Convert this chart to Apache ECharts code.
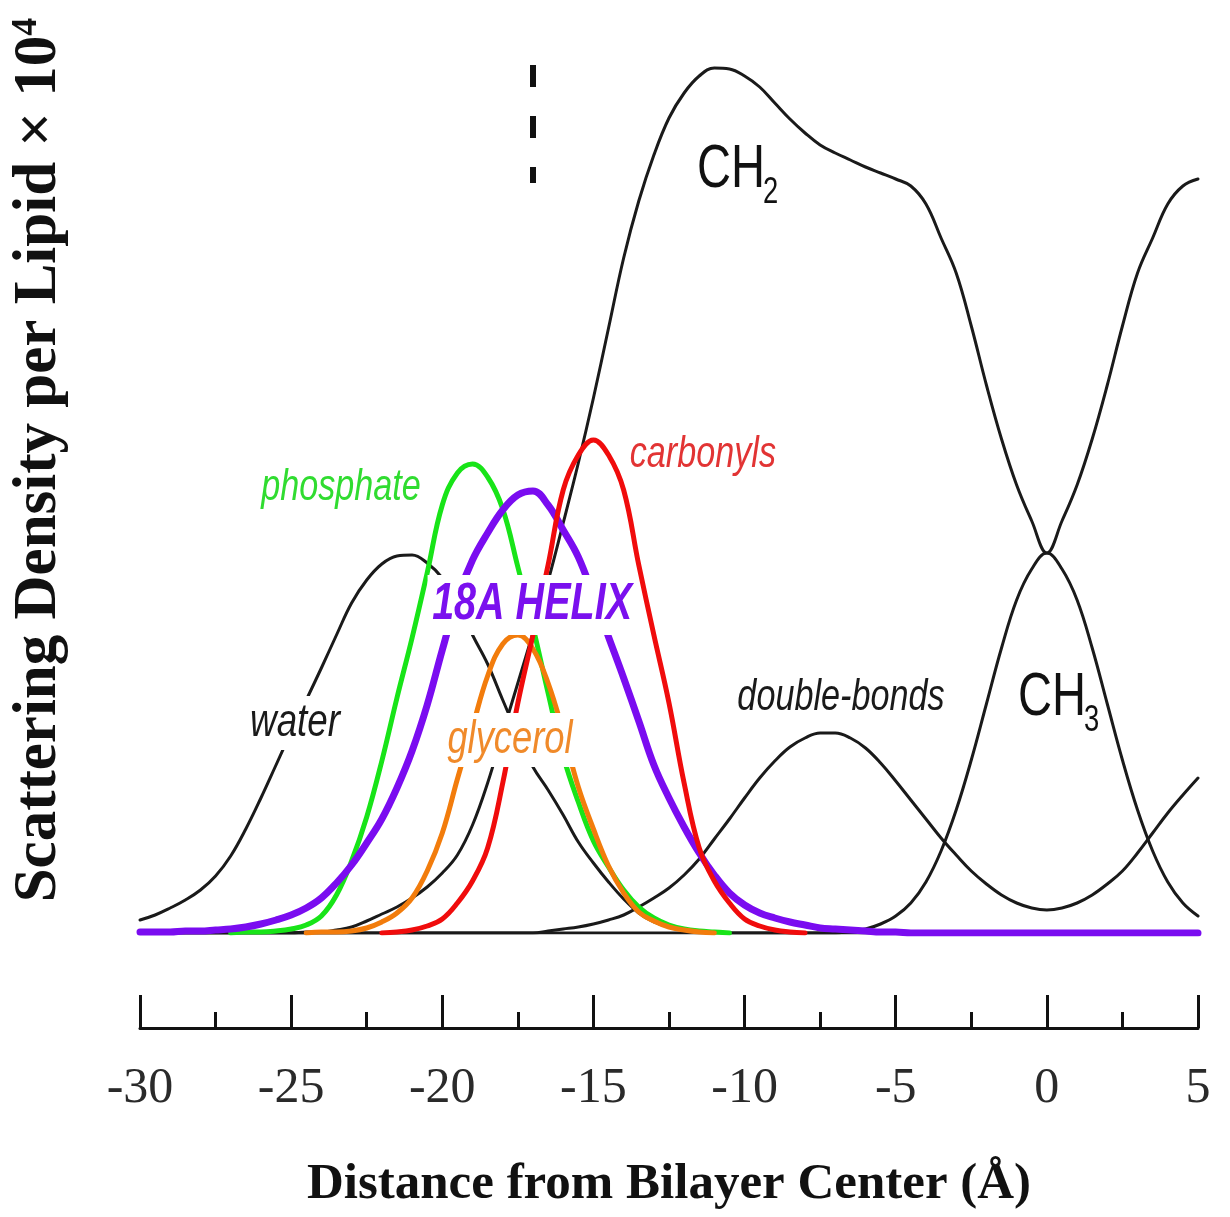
<!DOCTYPE html>
<html>
<head>
<meta charset="utf-8">
<script src="https://cdn.jsdelivr.net/npm/echarts@6/dist/echarts.min.js"></script>
<style>
html,body{margin:0;padding:0;background:#fff;}
#c{width:1230px;height:1217px;}
</style>
</head>
<body>
<div id="c"></div>
<script>
// Distance from bilayer centre (Å)
const xs = [-30,-29.5,-29,-28.5,-28,-27.5,-27,-26.5,-26,-25.5,
            -25,-24.5,-24,-23.5,-23,-22.5,-22,-21.5,-21,-20.5,
            -20,-19.5,-19,-18.5,-18,-17.5,-17,-16.5,-16,-15.5,
            -15,-14.5,-14,-13.5,-13,-12.5,-12,-11.5,-11,-10.5,
            -10,-9.5,-9,-8.5,-8,-7.5,-7,-6.5,-6,-5.5,
            -5,-4.5,-4,-3.5,-3,-2.5,-2,-1.5,-1,-0.5,
            0,0.5,1,1.5,2,2.5,3,3.5,4,4.5,5];

const water = [13,18,25,33,43,57,77,104,135,168,
               201,233,265,298,330,353,369,377,378,370,
               355,330,298,269,233,198,166,143,118,91,
               70,51,34,20,11,6,3,2,1,0,
               0,0,0,0,0,0,0,0,0,0,
               0,0,0,0,0,0,0,0,0,0,
               0,0,0,0,0,0,0,0,0,0,0];

const ch2 = [0,0,0,0,0,0,0,0,0,0,
             0,1,1,3,6,12,19,26,35,46,
             60,78,108,150,200,250,300,352,410,470,
             535,605,675,732,778,815,840,857,865,864,
             857,846,830,814,800,788,780,773,766,760,
             754,747,729,695,660,607,548,494,448,412,
             380,412,448,494,548,607,660,695,729,747,754];

const doubleBonds = [0,0,0,0,0,0,0,0,0,0,
                     0,0,0,0,0,0,0,0,0,0,
                     0,0,0,0,0,0,0,2,4,6,
                     9,13,18,26,35,45,58,74,94,114,
                     135,155,172,186,195,200,200,195,185,170,
                     152,133,114,95,78,62,49,38,30,25,
                     23,25,30,38,49,62,80,100,120,138,155];

const ch3 = [0,0,0,0,0,0,0,0,0,0,
             0,0,0,0,0,0,0,0,0,0,
             0,0,0,0,0,0,0,0,0,0,
             0,0,0,0,0,0,0,0,0,0,
             0,0,0,0,0,0,0,2,4,9,
             17,30,51,82,123,173,229,285,333,364,
             380,364,333,285,229,173,123,82,51,30,17];

const phosphate = [null,null,null,null,null,null,0,1,1,2,
                   4,8,17,38,72,116,172,235,295,360,
                   428,460,469,456,424,366,306,240,177,131,
                   92,66,43,26,15,8,4,2,1,0,
                   null,null,null,null,null,null,null,null,null,null,
                   null,null,null,null,null,null,null,null,null,null,
                   null,null,null,null,null,null,null,null,null,null,null];

const glycerol = [null,null,null,null,null,null,null,null,null,null,
                  null,0,1,1,2,5,11,20,35,62,
                  100,154,206,257,289,298,284,250,201,146,
                  104,67,40,21,12,6,3,1,0,null,
                  null,null,null,null,null,null,null,null,null,null,
                  null,null,null,null,null,null,null,null,null,null,
                  null,null,null,null,null,null,null,null,null,null,null];

const helix18A = [1,1,1,2,2,3,4,6,9,13,
                  18,25,35,50,68,90,114,145,182,228,
                  283,335,373,400,423,438,442,428,403,376,
                  337,296,255,212,168,135,106,80,58,40,
                  28,20,15,11,8,5,4,3,2,1,
                  1,0,0,0,0,0,0,0,0,0,
                  0,0,0,0,0,0,0,0,0,0,0];

const carbonyls = [null,null,null,null,null,null,null,null,null,null,
                   null,null,null,null,null,null,0,1,3,7,
                   14,30,52,85,150,230,298,368,443,478,
                   493,478,443,368,298,230,150,85,52,30,
                   14,7,3,1,0,null,null,null,null,null,
                   null,null,null,null,null,null,null,null,null,null,
                   null,null,null,null,null,null,null,null,null,null,null];

const xTicks = [-30,-25,-20,-15,-10,-5,0,5];

const pairs = vals => xs.map((x, i) => [x, vals[i]]);

const chart = echarts.init(document.getElementById('c'), null, {renderer: 'canvas'});

function line(name, vals, color, width) {
  return {
    name: name, type: 'line', data: pairs(vals),
    showSymbol: false, symbol: 'none', smooth: 0.4, connectNulls: false,
    lineStyle: {color: color, width: width, cap: 'round', join: 'round'},
    itemStyle: {color: color},
    silent: true
  };
}

const series = [
  line('water', water, '#1a1a1a', 3),
  line('CH2', ch2, '#1a1a1a', 3),
  line('double-bonds', doubleBonds, '#1a1a1a', 3),
  line('CH3', ch3, '#1a1a1a', 3),
  line('phosphate', phosphate, '#18e418', 5),
  line('glycerol', glycerol, '#f27c0c', 5),
  line('18A HELIX', helix18A, '#7a0cf0', 7),
  line('carbonyls', carbonyls, '#f00c0c', 5)
];

// dashed vertical marker
series[0].markLine = {
  silent: true, symbol: ['none', 'none'], label: {show: false},
  lineStyle: {color: '#111', width: 6, type: [22, 29]},
  data: [[{coord: [-17, 868]}, {coord: [-17, 750]}]]
};

const serif = '"Liberation Serif","Times New Roman",serif';
const sans = '"Liberation Sans",Arial,sans-serif';

chart.setOption({
  animation: false,
  backgroundColor: '#ffffff',
  grid: {left: 140, right: 32, top: 63, bottom: 284, containLabel: false, outerBoundsMode: 'none'},
  xAxis: {
    type: 'value', min: -30, max: 5, interval: 5, offset: 95,
    axisLine: {show: true, onZero: false, lineStyle: {color: '#111', width: 3}},
    axisTick: {show: true, inside: true, length: 33, lineStyle: {color: '#111', width: 3}},
    minorTick: {show: true, splitNumber: 2, length: 16, lineStyle: {color: '#111', width: 3}},
    splitLine: {show: false}, minorSplitLine: {show: false},
    axisLabel: {
      margin: 36, fontFamily: serif, fontSize: 50, color: '#2a2a2a',
      formatter: v => (xTicks.indexOf(v) >= 0 ? String(v) : '')
    },
    name: 'Distance from Bilayer Center (Å)', nameLocation: 'middle', nameGap: 131,
    nameTextStyle: {fontFamily: serif, fontWeight: 'bold', fontSize: 51, color: '#111'}
  },
  yAxis: {
    type: 'value', min: 0, max: 870,
    axisLine: {show: false}, axisTick: {show: false}, axisLabel: {show: false}, splitLine: {show: false},
    name: 'Scattering Density per Lipid × 10{s|4}', nameLocation: 'middle', nameRotate: 90, nameGap: 70,
    nameTextStyle: {
      fontFamily: serif, fontWeight: 'bold', fontSize: 61, color: '#111', padding: [0, 0, 0, 76],
      rich: {s: {fontFamily: serif, fontWeight: 'bold', fontSize: 36, color: '#111', verticalAlign: 'top'}}
    }
  },
  series: series
});

// annotations anchored in data coordinates
const notes = [
  {text: 'phosphate', at: [-23.35, 446], color: '#30dc30', size: 45, weight: 'normal', sx: 0.76, bg: false},
  {text: 'carbonyls', at: [-11.38, 479], color: '#e23434', size: 45, weight: 'normal', sx: 0.76, bg: false},
  {text: '18A HELIX', at: [-17.03, 328], color: '#7a10ee', size: 52, weight: 'bold', sx: 0.76, bg: true},
  {text: 'glycerol', at: [-17.76, 193], color: '#f08a2a', size: 46, weight: 'normal', sx: 0.79, bg: true},
  {text: 'water', at: [-24.87, 210], color: '#1a1a1a', size: 46, weight: 'normal', sx: 0.8, bg: true},
  {text: 'double-bonds', at: [-6.81, 236], color: '#1a1a1a', size: 45, weight: 'normal', sx: 0.76, bg: false}
];
const chem = [
  {main: 'CH', sub: '2', at: [-11.575, 763]},
  {main: 'CH', sub: '3', at: [-0.956, 235]}
];

const graphics = [];
notes.forEach(n => {
  const p = chart.convertToPixel({gridIndex: 0}, n.at);
  graphics.push({
    type: 'text', x: p[0], y: p[1], scaleX: n.sx, z: 100, silent: true,
    style: {
      text: n.text, fill: n.color, fontSize: n.size, fontFamily: sans,
      fontStyle: 'italic', fontWeight: n.weight, align: 'center', verticalAlign: 'middle',
      backgroundColor: n.bg ? '#ffffff' : 'transparent', padding: n.bg ? [4, 6] : 0
    }
  });
});
chem.forEach(c => {
  const p = chart.convertToPixel({gridIndex: 0}, c.at);
  graphics.push({
    type: 'group', x: p[0], y: p[1], scaleX: 0.76, z: 100, silent: true,
    children: [
      {type: 'text', x: 0, y: 0, z: 100,
       style: {text: c.main, fill: '#111', fontSize: 62, fontFamily: sans, align: 'left', verticalAlign: 'middle'}},
      {type: 'text', x: 87, y: 23, z: 100,
       style: {text: c.sub, fill: '#111', fontSize: 36, fontFamily: sans, align: 'left', verticalAlign: 'middle'}}
    ]
  });
});
chart.setOption({graphic: graphics});
</script>
</body>
</html>
